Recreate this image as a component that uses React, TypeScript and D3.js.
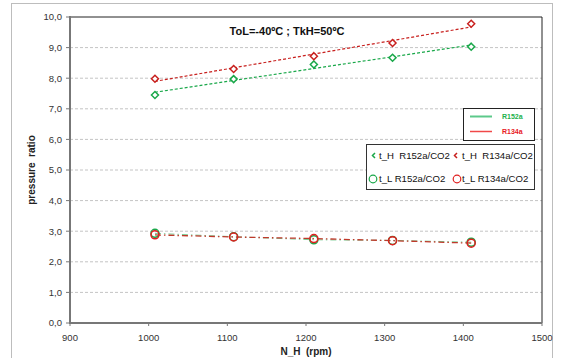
import React from "react";
import * as d3 from "d3";

const rpm = [1008, 1108, 1210, 1310, 1410];
const tH_R152a = [7.45, 7.97, 8.45, 8.67, 9.03];
const tH_R134a = [7.98, 8.3, 8.72, 9.15, 9.78];
const tL_R152a = [2.93, 2.82, 2.72, 2.7, 2.64];
const tL_R134a = [2.88, 2.81, 2.76, 2.69, 2.61];
const xTicks = [900, 1000, 1100, 1200, 1300, 1400, 1500];
const yTicks = [0, 1, 2, 3, 4, 5, 6, 7, 8, 9, 10];
const title = "ToL=-40ºC ; TkH=50ºC";

const GREEN = "#1aa84a";
const RED = "#c8201e";

function linFit(xs: number[], ys: number[]) {
  const mx = d3.mean(xs)!;
  const my = d3.mean(ys)!;
  let sxy = 0, sxx = 0;
  xs.forEach((x, i) => { sxy += (x - mx) * (ys[i] - my); sxx += (x - mx) * (x - mx); });
  const b = sxy / sxx;
  return (x: number) => my + b * (x - mx);
}

export default function App() {
  const L = 70, R = 542, T = 17, B = 323;
  const x = d3.scaleLinear().domain([900, 1500]).range([L, R]);
  const y = d3.scaleLinear().domain([0, 10]).range([B, T]);
  const font = "'Liberation Sans', Arial, sans-serif";

  const trend = (ys: number[]) => {
    const f = linFit(rpm, ys);
    const x0 = rpm[0], x1 = rpm[rpm.length - 1];
    return d3.line<number>().x((v) => x(v)).y((v) => y(f(v)))([x0, x1]) || "";
  };
  const lineGen = (ys: number[]) =>
    d3.line<number>().x((v) => x(v)).y((_, i) => y(ys[i]))(rpm) || "";

  const diamond = (cx: number, cy: number, c: string, k: string) => (
    <path key={k} d={`M${cx},${cy - 3.5}L${cx + 3.5},${cy}L${cx},${cy + 3.5}L${cx - 3.5},${cy}Z`}
      fill="#fff" stroke={c} strokeWidth={1.5} />
  );
  const pre = { whiteSpace: "pre" as const };
  const lf = 9.6;

  return (
    <svg width={561} height={358} style={{ position: "absolute", left: 0, top: 0, background: "#fff" }}
      fontFamily={font}>
      <rect x={11.5} y={3.5} width={541} height={360} fill="#fff" stroke="#bdbdbd" strokeWidth={1} />
      {yTicks.filter((t) => t > 0 && t < 10).map((t) => (
        <line key={t} x1={L} x2={R} y1={y(t)} y2={y(t)} stroke="#c4c4c4" strokeWidth={1} strokeDasharray="3,2" />
      ))}
      <line x1={L} x2={R} y1={T} y2={T} stroke="#222" strokeWidth={1} />
      <line x1={R} x2={R} y1={T} y2={B} stroke="#222" strokeWidth={1} />
      <line x1={L} x2={L} y1={T - 1} y2={B} stroke="#777" strokeWidth={2} />
      <line x1={L - 1} x2={R} y1={B} y2={B} stroke="#777" strokeWidth={2} />
      {yTicks.map((t) => (
        <g key={t}>
          <line x1={L - 4} x2={L} y1={y(t)} y2={y(t)} stroke="#777" strokeWidth={1} />
          <text x={L - 8} y={y(t)} dy="0.35em" textAnchor="end" fontSize={9.5} fill="#333">
            {d3.format(".1f")(t).replace(".", ",")}
          </text>
        </g>
      ))}
      {xTicks.map((t) => (
        <g key={t}>
          <line x1={x(t)} x2={x(t)} y1={B} y2={B + 3} stroke="#777" strokeWidth={1} />
          <text x={x(t)} y={B + 15} dy="0.35em" textAnchor="middle" fontSize={9.5} fill="#333">{t}</text>
        </g>
      ))}
      <text x={(L + R) / 2} y={355} textAnchor="middle" fontSize={10} fontWeight="bold" fill="#222" style={pre}>N_H  (rpm)</text>
      <text transform={`translate(35,${(T + B) / 2}) rotate(-90)`} textAnchor="middle" fontSize={10}
        fontWeight="bold" fill="#222" style={pre}>pressure  ratio</text>
      <text x={287} y={35} textAnchor="middle" fontSize={11} fontWeight="bold" fill="#111">{title}</text>

      <path d={trend(tH_R134a)} fill="none" stroke={RED} strokeWidth={1.2} strokeDasharray="3,2" />
      <path d={trend(tH_R152a)} fill="none" stroke={GREEN} strokeWidth={1.2} strokeDasharray="3,2" />
      <path d={lineGen(tL_R152a)} fill="none" stroke={GREEN} strokeWidth={1} strokeDasharray="6,3,1.5,3" opacity={0.6} />
      <path d={lineGen(tL_R134a)} fill="none" stroke="#c0392b" strokeWidth={1.3} strokeDasharray="6,3,1.5,3" />

      {rpm.map((r, i) => diamond(x(r), y(tH_R152a[i]), GREEN, "g" + i))}
      {rpm.map((r, i) => diamond(x(r), y(tH_R134a[i]), RED, "r" + i))}
      {rpm.map((r, i) => (
        <circle key={"cg" + i} cx={x(r)} cy={y(tL_R152a[i])} r={4} fill="none" stroke={GREEN} strokeWidth={1.5} />
      ))}
      {rpm.map((r, i) => (
        <circle key={"cr" + i} cx={x(r)} cy={y(tL_R134a[i])} r={4} fill="none" stroke="#e02020" strokeWidth={1.5} />
      ))}

      <rect x={463.5} y={108.5} width={71} height={32} fill="#fff" stroke="#222" strokeWidth={1} />
      <line x1={470} x2={492} y1={116.5} y2={116.5} stroke="#5cc98a" strokeWidth={2} />
      <text x={502} y={117} dy="0.35em" fontSize={7} fontWeight="bold" fill="#22b14c">R152a</text>
      <line x1={470} x2={492} y1={131.5} y2={131.5} stroke="#f04848" strokeWidth={1.5} />
      <text x={502} y={132} dy="0.35em" fontSize={7} fontWeight="bold" fill="#e8201e">R134a</text>

      <rect x={366.5} y={144.5} width={168} height={45} fill="#fff" stroke="#333" strokeWidth={1} />
      <path d="M375,153 L372.5,155.5 L375,158" fill="none" stroke={GREEN} strokeWidth={1.5} />
      <text x={379} y={156} dy="0.35em" fontSize={lf} fill="#111" style={pre}>t_H  R152a/CO2</text>
      <path d="M457,153 L454.5,155.5 L457,158" fill="none" stroke={RED} strokeWidth={1.5} />
      <text x={462} y={156} dy="0.35em" fontSize={lf} fill="#111" style={pre}>t_H  R134a/CO2</text>
      <circle cx={373} cy={179} r={3.8} fill="none" stroke={GREEN} strokeWidth={1.2} />
      <text x={379} y={179} dy="0.35em" fontSize={lf} fill="#111">t_L R152a/CO2</text>
      <circle cx={457} cy={179} r={3.8} fill="none" stroke="#e02020" strokeWidth={1.2} />
      <text x={462} y={179} dy="0.35em" fontSize={lf} fill="#111">t_L R134a/CO2</text>
    </svg>
  );
}
